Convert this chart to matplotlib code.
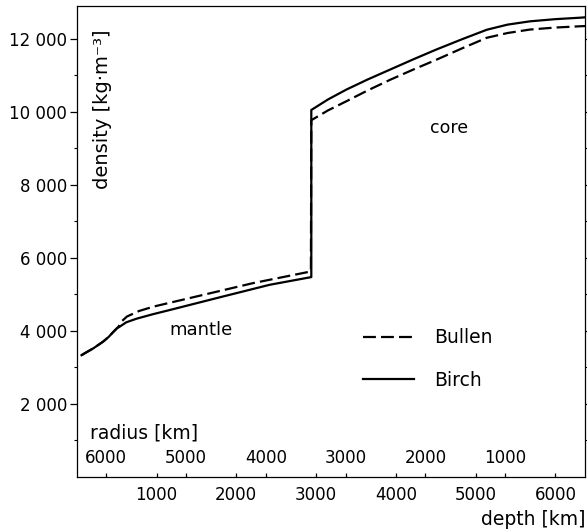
import numpy as np
import matplotlib
matplotlib.use('Agg')
import matplotlib.pyplot as plt
from matplotlib.ticker import FixedLocator

plt.rcParams.update({'font.size': 12, 'font.family': 'DejaVu Sans'})

EARTH_RADIUS = 6371

# Birch model (solid), depth in km, density in kg/m^3
birch_depth = [60, 130, 210, 270, 330, 400, 460, 500, 545, 620, 750, 950, 1170, 1800,
               2420, 2940,
               2940, 3150, 3380, 3650, 3930, 4220, 4510, 4830, 5140, 5400, 5680, 6000,
               6310, 6371]
birch_density = [3330, 3420, 3520, 3610, 3700, 3830, 3970, 4060, 4120, 4230, 4330, 4450,
                 4570, 4920, 5260, 5470,
                 10050, 10340, 10610, 10890, 11160, 11440, 11710, 11990, 12250, 12390,
                 12480, 12540, 12580, 12590]

# Bullen model (dashed)
bullen_depth = [60, 130, 210, 270, 330, 400, 460, 520, 570, 630, 780, 960, 1590, 2210,
                2935,
                2940, 3150, 3380, 3650, 3930, 4220, 4510, 4830, 5140, 5400, 5680, 6000,
                6310, 6371]
bullen_density = [3330, 3420, 3520, 3610, 3700, 3830, 3970, 4100, 4270, 4390, 4540, 4660,
                  4985, 5305, 5625,
                  9770, 10040, 10290, 10590, 10880, 11160, 11430, 11740, 12030, 12160,
                  12255, 12310, 12345, 12350]

ytick_vals = [2000, 4000, 6000, 8000, 10000, 12000]
ytick_labels = ['2 000', '4 000', '6 000', '8 000', '10 000', '12 000']
depth_ticks = [1000, 2000, 3000, 4000, 5000, 6000]
radius_ticks = [6000, 5000, 4000, 3000, 2000, 1000]

fig = plt.figure(figsize=(5.87, 5.32), dpi=100)
ax = fig.add_axes([0.1307, 0.104, 0.866, 0.8847])

ax.plot(birch_depth, birch_density, color='black', lw=1.6, label='Birch',
        solid_joinstyle='round')
ax.plot(bullen_depth, bullen_density, color='black', lw=1.6, ls=(0, (5.8, 2.3)),
        label='Bullen')

ax.set_xlim(0, EARTH_RADIUS)
ax.set_ylim(0, 12900)

for s in ax.spines.values():
    s.set_linewidth(0.9)

# y axis: labelled ticks every 2000, small ticks in between
ax.yaxis.set_major_locator(FixedLocator(ytick_vals))
ax.set_yticklabels(ytick_labels)
ax.yaxis.set_minor_locator(FixedLocator([1000, 3000, 5000, 7000, 9000, 11000]))
ax.tick_params(axis='y', which='major', direction='out', length=5, width=0.9, pad=2)
ax.tick_params(axis='y', which='minor', direction='out', length=2.5, width=0.8)
ax.tick_params(axis='y', which='both', right=True)
ax.tick_params(axis='y', which='both', labelright=False)

# x axis: depth labels below, radius labels inside
radius_pos = [EARTH_RADIUS - r for r in radius_ticks]
ax.xaxis.set_major_locator(FixedLocator(depth_ticks))
ax.xaxis.set_minor_locator(FixedLocator(radius_pos))
ax.tick_params(axis='x', which='both', direction='in', length=3, width=0.9, pad=7)

for d, r in zip(radius_pos, radius_ticks):
    ax.text(d, 0.04, str(r), transform=ax.get_xaxis_transform(),
            ha='center', va='center', fontsize=12)
ax.text(0.026, 0.093, 'radius [km]', transform=ax.transAxes,
        ha='left', va='center', fontsize=13.5)
ax.text(1.0, -0.091, 'depth [km]', transform=ax.transAxes,
        ha='right', va='center', fontsize=13.5)
ax.text(0.05, 0.95, 'density [kg·m⁻³]', transform=ax.transAxes,
        rotation=90, ha='center', va='top', fontsize=14)

ax.text(4666, 9566, 'core', ha='center', va='center', fontsize=12.5)
ax.text(1558, 4025, 'mantle', ha='center', va='center', fontsize=13)

handles, labels = ax.get_legend_handles_labels()
ax.legend(handles[::-1], labels[::-1], loc='upper left', bbox_to_anchor=(0.563, 0.315),
          frameon=False, handlelength=2.7, handletextpad=1.1, labelspacing=1.25,
          borderpad=0, borderaxespad=0, fontsize=13.5)

fig.savefig('out.png', dpi=100)
